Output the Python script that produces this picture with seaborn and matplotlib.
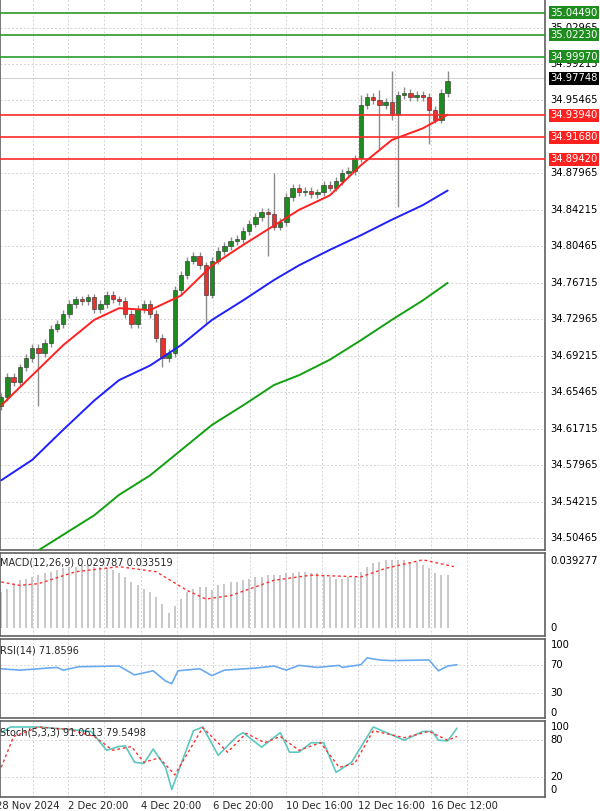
import numpy as np
import pandas as pd
import matplotlib
matplotlib.use("Agg")
import matplotlib.pyplot as plt
import seaborn as sns

sns.set_style("white")

# ---- price data (candle closes, one per bar) ----
closes = [34.650, 34.670, 34.665, 34.680, 34.690, 34.700,
          34.695, 34.705, 34.720, 34.725, 34.735,
          34.745, 34.750, 34.748, 34.752, 34.740, 34.745,
          34.755, 34.750, 34.748, 34.735, 34.725, 34.740,
          34.745, 34.735, 34.710, 34.690, 34.695,
          34.760, 34.775, 34.790, 34.795, 34.785,
          34.755, 34.790, 34.800, 34.805, 34.810,
          34.812, 34.820, 34.828, 34.835, 34.840,
          34.838, 34.825, 34.830, 34.855, 34.865,
          34.860, 34.862, 34.858, 34.860, 34.868,
          34.865, 34.872, 34.880, 34.882, 34.895,
          34.950, 34.958, 34.955, 34.950, 34.953,
          34.940, 34.960, 34.962, 34.958, 34.960,
          34.958, 34.945, 34.935, 34.962, 34.975]
first_open = 34.640
wick = 0.004
long_wicks_high = {44: 34.880, 58: 34.960, 61: 34.965, 63: 34.985, 65: 34.968, 72: 34.985}
long_wicks_low = {6: 34.640, 26: 34.680, 33: 34.725, 43: 34.795, 61: 34.905, 64: 34.845, 69: 34.910, 63: 34.935}

# moving averages: (bar index, value)
ma_red_idx = [0, 5, 10, 15, 19, 24, 29, 34, 39, 44, 48, 53, 58, 63, 68, 72]
ma_red = [34.641, 34.672, 34.703, 34.729, 34.741, 34.739, 34.754, 34.785,
          34.806, 34.826, 34.842, 34.857, 34.888, 34.914, 34.926, 34.940]
ma_blue_idx = ma_red_idx
ma_blue = [34.564, 34.585, 34.616, 34.646, 34.667, 34.682, 34.703, 34.729,
           34.749, 34.770, 34.785, 34.801, 34.816, 34.832, 34.847, 34.862]
ma_green_idx = [6, 10, 15, 19, 24, 29, 34, 39, 44, 48, 53, 58, 63, 68, 72]
ma_green = [34.492, 34.508, 34.528, 34.549, 34.569, 34.595, 34.621, 34.641,
            34.662, 34.672, 34.688, 34.708, 34.729, 34.749, 34.767]

green_levels = [35.04490, 35.02230, 34.99970]
red_levels = [34.93940, 34.91680, 34.89420]
last_price = 34.97748
price_ticks = [35.02965, 34.99215, 34.95465, 34.87965, 34.84215, 34.80465,
               34.76715, 34.72965, 34.69215, 34.65465, 34.61715, 34.57965,
               34.54215, 34.50465]

macd_hist = [0.021, 0.023, 0.026, 0.028, 0.029, 0.030, 0.031, 0.032, 0.033, 0.034,
             0.035, 0.036, 0.036, 0.037, 0.037,
             0.036, 0.036, 0.035, 0.034, 0.032, 0.030, 0.027, 0.025, 0.023, 0.021,
             0.018, 0.014, 0.009,
             0.013, 0.017, 0.021, 0.023, 0.024, 0.024, 0.022, 0.025, 0.026, 0.027,
             0.027, 0.028, 0.029, 0.030, 0.030, 0.031, 0.031,
             0.031, 0.032, 0.032, 0.033, 0.033, 0.032, 0.032, 0.031, 0.030, 0.029,
             0.029, 0.030, 0.030, 0.033,
             0.036, 0.038, 0.039, 0.040, 0.040, 0.040, 0.040, 0.039, 0.039, 0.037,
             0.035, 0.032, 0.031, 0.031]
macd_sig_idx = [0, 3, 6, 12, 19, 25, 30, 33, 37, 44, 50, 58, 62, 68, 73]
macd_sig = [0.027, 0.025, 0.026, 0.033, 0.036, 0.033, 0.022, 0.017, 0.019,
            0.028, 0.031, 0.030, 0.035, 0.040, 0.036]

rsi_idx = [0, 3, 9, 10, 12.5, 19, 21.5, 24.5, 26.5, 27.5, 28.5, 32, 34, 36, 41, 44,
           46, 48, 51, 54.5, 55, 58, 59, 61, 63, 69, 70.5, 72, 73.5]
rsi = [65, 63, 67, 63, 68, 69, 56, 62, 47, 43, 62, 65, 55, 63, 66, 69, 63, 70,
       67, 70, 67, 71, 81, 78, 77, 78, 62, 69, 71]

stoch_idx = [0, 1.5, 6, 11, 14.5, 17, 19, 20, 21.5, 23, 24.5, 26.5, 27.5, 31, 32.5,
             35, 38, 39, 42, 45, 46.5, 48, 50, 52, 54, 56.5, 60, 65, 68, 69.5, 70.5,
             72, 73.5]
stoch_k = [91, 100, 100, 96, 93, 63, 69, 70, 44, 42, 65, 36, 1, 94, 100, 55, 85,
           91, 68, 91, 60, 60, 75, 75, 28, 44, 100, 79, 93, 93, 79, 78, 98]
stoch_d_idx = [0, 2, 6, 11, 15, 18, 21, 23, 25.5, 28, 32.5, 36.5, 39.5, 42.5, 45,
               48, 51.5, 54.5, 57, 60, 65, 69, 72, 73.5]
stoch_d = [36, 85, 100, 96, 85, 63, 69, 44, 51, 24, 99, 60, 90, 75, 85, 63, 75,
           36, 42, 94, 83, 93, 79, 85]

date_ticks = [-0.8, 10.8, 22.5, 34.2, 45.9, 57.6, 69.3]
date_labels = ["28 Nov 2024", "2 Dec 20:00", "4 Dec 20:00", "6 Dec 20:00",
               "10 Dec 16:00", "12 Dec 16:00", "16 Dec 12:00"]

W, H = 600, 811
XR = 545  # right edge of plot area in px
XLIM = (-0.2, 87.7)
GRID = dict(color="#d4d4d4", linestyle=(0, (2, 2)), linewidth=0.7)


def add_panel(fig, top, bottom):
    ax = fig.add_axes([0, 1 - bottom / H, XR / W, (bottom - top) / H])
    ax.set_xlim(*XLIM)
    ax.set_xticks([])
    ax.set_yticks([])
    for s in ax.spines.values():
        s.set_color("#606060")
        s.set_linewidth(1.2)
    for t in date_ticks:
        ax.axvline(t, **GRID, zorder=0)
        ax.axvline(t + 5.85, **GRID, zorder=0)
    return ax


def right_label(ax, y, text, fc=None, tc="black"):
    kw = dict(transform=ax.get_yaxis_transform(), fontsize=7.2, va="center",
              ha="left", color=tc, clip_on=False, family="DejaVu Sans")
    if fc:
        kw["bbox"] = dict(boxstyle="square,pad=0.15", fc=fc, ec="none")
    ax.text(1.01, y, text, **kw)


fig = plt.figure(figsize=(W / 100, H / 100), dpi=100)

# ---- main price panel ----
ax = add_panel(fig, -2, 550)
ax.set_ylim(34.4923, 35.060)
for p in price_ticks:
    ax.axhline(p, **GRID, zorder=0)
    right_label(ax, p, f"{p:.5f}")

opens = [first_open] + closes[:-1]
for i, (o, c) in enumerate(zip(opens, closes)):
    hi = long_wicks_high.get(i, max(o, c) + wick)
    lo = long_wicks_low.get(i, min(o, c) - wick)
    ax.vlines(i, lo, hi, color="#8c8c8c", linewidth=1.0, zorder=2)
    col = "#1f8a1f" if c >= o else "#e8322e"
    ax.bar(i, max(abs(c - o), 0.0008), bottom=min(o, c), width=0.7,
           color=col, edgecolor="#2a2a2a", linewidth=0.4, zorder=3)

sns.lineplot(x=ma_red_idx, y=ma_red, color="#ff2020", linewidth=1.4, ax=ax, zorder=4)
sns.lineplot(x=ma_blue_idx, y=ma_blue, color="#1f1fff", linewidth=1.4, ax=ax, zorder=4)
sns.lineplot(x=ma_green_idx, y=ma_green, color="#12a012", linewidth=1.4, ax=ax, zorder=4)

for lv in green_levels:
    ax.axhline(lv, color="#2a9a2a", linewidth=1.2, zorder=5)
    right_label(ax, lv, f"{lv:.5f}", fc="#1e8c1e", tc="white")
for lv in red_levels:
    ax.axhline(lv, color="#ff2a2a", linewidth=1.2, zorder=5)
    right_label(ax, lv, f"{lv:.5f}", fc="#ff2020", tc="white")
ax.axhline(last_price, color="#d0d0d0", linewidth=0.7, zorder=1)
right_label(ax, last_price, f"{last_price:.5f}", fc="black", tc="white")
ax.set_xlim(*XLIM)

# ---- MACD ----
axm = add_panel(fig, 553, 636)
axm.set_ylim(-0.0047, 0.0440)
axm.vlines(range(len(macd_hist)), 0, macd_hist, color="#c4c4c4", linewidth=1.3, zorder=2)
sns.lineplot(x=macd_sig_idx, y=macd_sig, color="#ff3030", linewidth=1.0,
             linestyle=(0, (2, 2)), ax=axm, zorder=3)
axm.text(0.0, 0.95, "MACD(12,26,9) 0.029787 0.033519", transform=axm.transAxes,
         fontsize=7, va="top", ha="left")
right_label(axm, 0.039277, "0.039277")
right_label(axm, 0, "0")
axm.set_xlim(*XLIM)

# ---- RSI ----
axr = add_panel(fig, 639, 718)
axr.set_ylim(-7.4, 108.8)
for lv in [70, 30]:
    axr.axhline(lv, **GRID, zorder=0)
sns.lineplot(x=rsi_idx, y=rsi, color="#6aaaf0", linewidth=1.2, ax=axr)
axr.text(0.0, 0.92, "RSI(14) 71.8596", transform=axr.transAxes,
         fontsize=7, va="top", ha="left")
for lv in [100, 70, 30, 0]:
    right_label(axr, lv, str(lv))
axr.set_xlim(*XLIM)

# ---- Stochastic ----
axs = add_panel(fig, 721, 797)
axs.set_ylim(-11.1, 109.5)
for lv in [80, 20]:
    axs.axhline(lv, **GRID, zorder=0)
sns.lineplot(x=stoch_idx, y=stoch_k, color="#5cc8c0", linewidth=1.2, ax=axs)
sns.lineplot(x=stoch_d_idx, y=stoch_d, color="#ff3030", linewidth=1.0,
             linestyle=(0, (2, 2)), ax=axs)
axs.text(0.0, 0.92, "Stoch(5,3,3) 91.0613 79.5498", transform=axs.transAxes,
         fontsize=7, va="top", ha="left")
for lv in [100, 80, 20, 0]:
    right_label(axs, lv, str(lv))
axs.set_xlim(*XLIM)

for t, lab in zip(date_ticks, date_labels):
    fig.text((t - XLIM[0]) / (XLIM[1] - XLIM[0]) * XR / W, 1 - 806 / H, lab,
             fontsize=7.2, ha="left", va="center")

fig.savefig("out.png", dpi=100)
